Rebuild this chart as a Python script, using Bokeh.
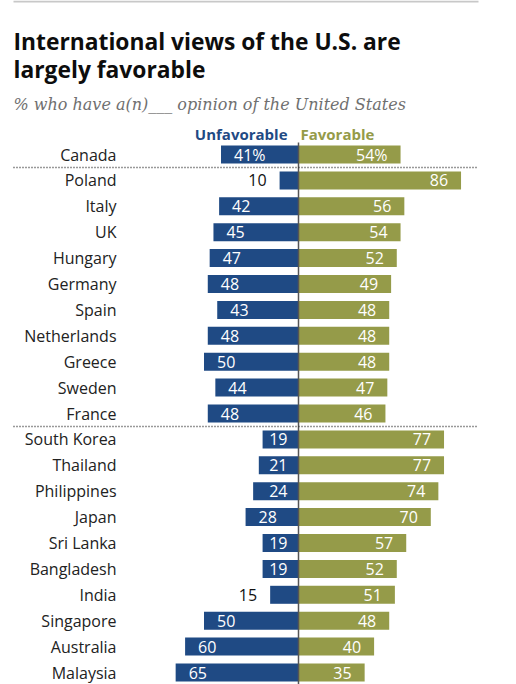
from bokeh.plotting import figure
from bokeh.models import Range1d, ColumnDataSource
from bokeh.core.properties import value
from bokeh.embed import file_html
from bokeh.resources import INLINE

countries = ["Canada", "Poland", "Italy", "UK", "Hungary", "Germany", "Spain",
             "Netherlands", "Greece", "Sweden", "France", "South Korea", "Thailand",
             "Philippines", "Japan", "Sri Lanka", "Bangladesh", "India", "Singapore",
             "Australia", "Malaysia"]
unfavorable = [41, 10, 42, 45, 47, 48, 43, 48, 50, 44, 48, 19, 21, 24, 28, 19, 19, 15, 50, 60, 65]
favorable = [54, 86, 56, 54, 52, 49, 48, 48, 48, 47, 46, 77, 77, 74, 70, 57, 52, 51, 48, 40, 35]
group_breaks = [1, 11]  # dotted separators before these row indices

title_lines = ["International views of the U.S. are", "largely favorable"]
subtitle = "% who have a(n)___ opinion of the United States"
legend_labels = ["Unfavorable", "Favorable"]

BLUE = "#1f4a84"
OLIVE = "#959b49"
W, H = 508, 684
S = 1.89          # px per percentage point
CX = 298          # canvas x of zero line
ROW0 = 154        # canvas y of first row
ROWH = 25.9       # px per row

def px2x(px):
    return (px - CX) / S

def px2y(py):
    return -(py - ROW0) / ROWH

p = figure(width=W, height=H, output_backend="svg", toolbar_location=None,
           x_range=Range1d(px2x(0), px2x(W)), y_range=Range1d(px2y(H), px2y(0)),
           min_border=0, border_fill_color="white", background_fill_color="white")
p.axis.visible = False
p.grid.visible = False
p.outline_line_color = None

n = len(countries)
ys = [-i for i in range(n)]

FONT = value("Open Sans")

# top rule
p.segment(x0=[px2x(13)], y0=[px2y(1)], x1=[px2x(478)], y1=[px2y(1)], line_color="#c8c8c8", line_width=2)

# title + subtitle
p.text(x=[px2x(13)] * 2, y=[px2y(41), px2y(69)], text=title_lines, text_font=FONT,
       text_font_style="bold", text_font_size="22.8px", text_color="#0d0d0d",
       text_baseline="alphabetic", text_align="left")
p.text(x=[px2x(13)], y=[px2y(104)], text=[subtitle], text_font=value("DejaVu Serif"),
       text_font_style="italic", text_font_size="16px", text_color="#707070",
       text_baseline="alphabetic", text_align="left")

# legend headers
p.text(x=[px2x(CX - 11)], y=[px2y(133)], text=[legend_labels[0]], text_font=FONT,
       text_font_style="bold", text_font_size="15px", text_color=BLUE,
       text_baseline="alphabetic", text_align="right")
p.text(x=[px2x(CX + 2)], y=[px2y(133)], text=[legend_labels[1]], text_font=FONT,
       text_font_style="bold", text_font_size="15px", text_color=OLIVE,
       text_baseline="alphabetic", text_align="left")

src = ColumnDataSource(dict(y=ys, country=countries,
                            neg=[-v for v in unfavorable], fav=favorable))
BH = 18 / ROWH
p.hbar(y="y", left="neg", right=0, height=BH, fill_color=BLUE, line_color=None, source=src)
p.hbar(y="y", left=0, right="fav", height=BH, fill_color=OLIVE, line_color=None, source=src)

# center line
p.segment(x0=[0], y0=[px2y(142)], x1=[0], y1=[px2y(H + 5)], line_color="#555555", line_width=1.5)

# dotted separators
for b in group_breaks:
    p.segment(x0=[px2x(13)], y0=[-(b - 0.5)], x1=[px2x(478)], y1=[-(b - 0.5)],
              line_color="#333333", line_width=1.5, line_dash="1 2")

LBL = "16px"
# country labels
p.text(x=[px2x(116)] * n, y=ys, text=countries, text_font=FONT, text_font_size=LBL,
       text_color="#222222", text_baseline="middle", text_align="right")

def fmt(v, i):
    return f"{v}%" if i == 0 else str(v)

# favorable labels
p.text(x=favorable, y=ys, text=[fmt(v, i) for i, v in enumerate(favorable)], x_offset=-13,
       text_font=FONT, text_font_size=LBL, text_color="white",
       text_baseline="middle", text_align="right")

# unfavorable labels
in_long = [i for i, v in enumerate(unfavorable) if v * S >= 46]
in_short = [i for i, v in enumerate(unfavorable) if 30 <= v * S < 46]
outside = [i for i, v in enumerate(unfavorable) if v * S < 30]
p.text(x=[-unfavorable[i] for i in in_long], y=[ys[i] for i in in_long],
       text=[fmt(unfavorable[i], i) for i in in_long], x_offset=13,
       text_font=FONT, text_font_size=LBL, text_color="white",
       text_baseline="middle", text_align="left")
p.text(x=[0] * len(in_short), y=[ys[i] for i in in_short],
       text=[fmt(unfavorable[i], i) for i in in_short], x_offset=-11,
       text_font=FONT, text_font_size=LBL, text_color="white",
       text_baseline="middle", text_align="right")
p.text(x=[-unfavorable[i] for i in outside], y=[ys[i] for i in outside],
       text=[fmt(unfavorable[i], i) for i in outside], x_offset=-13,
       text_font=FONT, text_font_size=LBL, text_color="#111111",
       text_baseline="middle", text_align="right")

open("out.html", "w").write(file_html(p, INLINE))
